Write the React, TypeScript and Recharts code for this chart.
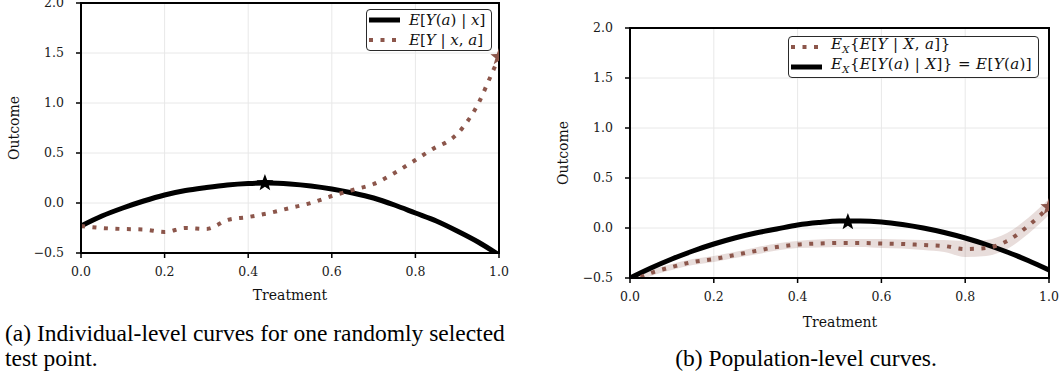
import React from 'react'
import {
  ComposedChart, Line, Area, Scatter, XAxis, YAxis, CartesianGrid,
  ReferenceArea, Legend,
} from 'recharts'

// ── Data ──────────────────────────────────────────────────────────────────────

const treatment = [0, 0.05, 0.1, 0.15, 0.2, 0.25, 0.3, 0.35, 0.4, 0.45, 0.5,
  0.55, 0.6, 0.65, 0.7, 0.75, 0.8, 0.85, 0.9, 0.95, 1.0]

// (a) individual-level
const indivTruth = [-0.23, -0.13, -0.05, 0.02, 0.08, 0.125, 0.155, 0.18, 0.195, 0.2, 0.19,
  0.17, 0.14, 0.1, 0.05, -0.02, -0.1, -0.18, -0.28, -0.39, -0.52]
const indivPlugX = [0, 0.05, 0.1, 0.15, 0.2, 0.25, 0.3, 0.35, 0.4, 0.45, 0.5, 0.55,
  0.6, 0.65, 0.7, 0.75, 0.8, 0.85, 0.875, 0.9, 0.925, 0.95, 0.975, 1.0]
const indivPlugY = [-0.23, -0.25, -0.26, -0.265, -0.29, -0.25, -0.26, -0.17, -0.14, -0.1, -0.05, 0.0,
  0.07, 0.13, 0.19, 0.3, 0.43, 0.56, 0.61, 0.69, 0.82, 0.99, 1.22, 1.46]
const indivStarX = [0.44, 1.0]
const indivStarY = [0.2, 1.46]

// (b) population-level
const popTruth = [-0.5, -0.4, -0.31, -0.23, -0.16, -0.1, -0.05, -0.01, 0.03, 0.055, 0.07,
  0.07, 0.06, 0.035, 0.0, -0.045, -0.1, -0.165, -0.24, -0.325, -0.42]
const popPlug = [-0.54, -0.45, -0.39, -0.34, -0.31, -0.27, -0.23, -0.19, -0.165, -0.155, -0.15,
  -0.15, -0.155, -0.16, -0.17, -0.18, -0.21, -0.2, -0.13, 0.02, 0.21]
const popBandHalf = [0.03, 0.03, 0.03, 0.03, 0.03, 0.03, 0.035, 0.035, 0.035, 0.04, 0.04,
  0.04, 0.045, 0.045, 0.05, 0.06, 0.08, 0.08, 0.08, 0.08, 0.08]
const popStarX = [0.52, 1.0]
const popStarY = [0.06, 0.21]

const xTicks = [0, 0.2, 0.4, 0.6, 0.8, 1.0]
const yTicks = [-0.5, 0, 0.5, 1.0, 1.5, 2.0]

const BROWN = '#8c564b'
const SERIF = '"DejaVu Serif"'
const TIMES = '"Liberation Serif", "DejaVu Serif"'

const fmt = (v: number) => (v < 0 ? '\u2212' + Math.abs(v).toFixed(1) : v.toFixed(1))
const pts = (xs: number[], ys: number[]) => xs.map((x, i) => ({ x, y: ys[i] }))

// ── Bits ──────────────────────────────────────────────────────────────────────

function Star(props: any) {
  const { cx, cy, fill } = props
  if (cx == null || cy == null) return null
  const r = 9
  const p: string[] = []
  for (let i = 0; i < 10; i++) {
    const ang = -Math.PI / 2 + (i * Math.PI) / 5
    const rad = i % 2 === 0 ? r : r * 0.42
    p.push(`${cx + rad * Math.cos(ang)},${cy + rad * Math.sin(ang)}`)
  }
  return <polygon points={p.join(' ')} fill={fill} />
}

interface Row { dotted: boolean; label: React.ReactNode }

function LegendBox({ rows, spacing }: { rows: Row[]; spacing: number }) {
  return (
    <div style={{
      border: '1.6px solid #2a2a2a', borderRadius: 4, background: '#fff',
      padding: '0 6px 0 2px', fontFamily: SERIF, fontSize: 15, lineHeight: '20px',
      color: '#111', letterSpacing: spacing,
    }}>
      {rows.map((r, i) => (
        <div key={i} style={{ display: 'flex', alignItems: 'center', whiteSpace: 'nowrap', height: 20 }}>
          <svg width={31} height={8} style={{ flex: 'none' }}>
            <line x1={0} y1={4} x2={31} y2={4}
              stroke={r.dotted ? BROWN : '#000'} strokeWidth={r.dotted ? 4 : 5}
              strokeDasharray={r.dotted ? '4 7.5' : undefined} />
          </svg>
          <span style={{ marginLeft: 9 }}>{r.label}</span>
        </div>
      ))}
    </div>
  )
}

const tickStyle = { fontFamily: SERIF, fontSize: 12.5, fill: '#1a1a1a' }

function Panel({ truth, plugX, plugY, band, starX, starY, rows, spacing, legendPos, margin }: any) {
  const truthPts = pts(treatment, truth)
  const plugPts = pts(plugX, plugY)
  const bandPts = band ? treatment.map((x, i) => ({ x, r: [plugY[i] - band[i], plugY[i] + band[i]] })) : null
  const starBlack = [{ x: starX[0], y: starY[0] }]
  const starBrown = [{ x: starX[1], y: starY[1] }]
  return (
    <ComposedChart width={margin.w} height={310}
      margin={{ top: margin.top, right: margin.right, bottom: margin.bottom, left: margin.left }}>
      <CartesianGrid stroke="#e8e8e8" strokeWidth={1} />
      <XAxis type="number" dataKey="x" domain={[0, 1]} ticks={xTicks} allowDataOverflow
        tickFormatter={fmt} tick={tickStyle} height={30} tickSize={5} tickMargin={9}
        axisLine={{ stroke: '#000', strokeWidth: 2 }} tickLine={{ stroke: '#000', strokeWidth: 1.5 }} />
      <YAxis type="number" domain={[-0.5, 2]} ticks={yTicks} allowDataOverflow
        tickFormatter={fmt} tick={tickStyle} width={50} tickSize={5} tickMargin={12}
        axisLine={{ stroke: '#000', strokeWidth: 2 }} tickLine={{ stroke: '#000', strokeWidth: 1.5 }} />
      {bandPts && (
        <Area data={bandPts} dataKey="r" type="monotone" stroke="none"
          fill={BROWN} fillOpacity={0.2} isAnimationActive={false} />
      )}
      <Line data={truthPts} dataKey="y" type="monotone" stroke="#000" strokeWidth={5}
        dot={false} isAnimationActive={false} />
      <Line data={plugPts} dataKey="y" type="monotone" stroke={BROWN} strokeWidth={4}
        strokeDasharray="4 7.5" dot={false} isAnimationActive={false} />
      <Scatter data={starBlack} dataKey="y" fill="#000" shape={<Star />} isAnimationActive={false} />
      <Scatter data={starBrown} dataKey="y" fill={BROWN} shape={<Star />} isAnimationActive={false} />
      <ReferenceArea x1={0} x2={1} y1={-0.5} y2={2} fill="none" stroke="#000" strokeWidth={2} />
      <Legend layout="horizontal" align="center" verticalAlign="middle"
        wrapperStyle={{ left: legendPos.left, top: legendPos.top, width: 'auto' }}
        content={() => <LegendBox rows={rows} spacing={spacing} />} />
    </ComposedChart>
  )
}

const I = ({ children }: any) => <i>{children}</i>

const rowsA: Row[] = [
  { dotted: false, label: <><I>E</I>[<I>Y</I>(<I>a</I>) | <I>x</I>]</> },
  { dotted: true, label: <><I>E</I>[<I>Y</I> | <I>x</I>, <I>a</I>]</> },
]
const rowsB: Row[] = [
  { dotted: true, label: <><I>E</I><sub style={{ fontSize: 10 }}><I>X</I></sub>{'{'}<I>E</I>[<I>Y</I> | <I>X</I>, <I>a</I>]{'}'}</> },
  { dotted: false, label: <><I>E</I><sub style={{ fontSize: 10 }}><I>X</I></sub>{'{'}<I>E</I>[<I>Y</I>(<I>a</I>) | <I>X</I>]{'}'} = <I>E</I>[<I>Y</I>(<I>a</I>)]</> },
]

const abs = (left: number, top: number, extra: React.CSSProperties = {}): React.CSSProperties => ({
  position: 'absolute', left, top, ...extra,
})
const title: React.CSSProperties = {
  fontFamily: SERIF, fontSize: 14, color: '#111', lineHeight: 1, whiteSpace: 'nowrap',
}
const caption: React.CSSProperties = {
  fontFamily: TIMES, fontSize: 23.5, lineHeight: '25px', color: '#000', whiteSpace: 'nowrap',
}

export default function App() {
  return (
    <div style={{ position: 'absolute', left: 0, top: 0, width: 1060, height: 381, overflow: 'hidden', background: '#fff' }}>
      <div style={abs(0, -20)}>
        <Panel truth={indivTruth} plugX={indivPlugX} plugY={indivPlugY} band={null}
          starX={indivStarX} starY={indivStarY} rows={rowsA} spacing={0}
          legendPos={{ left: 366, top: 29 }}
          margin={{ w: 530, top: 23, right: 31, bottom: 7, left: 31 }} />
      </div>
      <div style={abs(540, 0)}>
        <Panel truth={popTruth} plugX={treatment} plugY={popPlug} band={popBandHalf}
          starX={popStarX} starY={popStarY} rows={rowsB} spacing={0.4}
          legendPos={{ left: 248, top: 36 }}
          margin={{ w: 520, top: 28, right: 11, bottom: 2, left: 40 }} />
      </div>

      <div style={abs(14, 128, { ...title, transform: 'translate(-50%,-50%) rotate(-90deg)' })}>Outcome</div>
      <div style={abs(290, 295, { ...title, transform: 'translate(-50%,-50%)' })}>Treatment</div>
      <div style={abs(563, 153, { ...title, transform: 'translate(-50%,-50%) rotate(-90deg)' })}>Outcome</div>
      <div style={abs(840, 322, { ...title, transform: 'translate(-50%,-50%)' })}>Treatment</div>

      <div style={abs(5, 321, caption)}>
        (a) Individual-level curves for one randomly selected<br />test point.
      </div>
      <div style={abs(806, 346, { ...caption, transform: 'translateX(-50%)' })}>
        (b) Population-level curves.
      </div>
    </div>
  )
}
